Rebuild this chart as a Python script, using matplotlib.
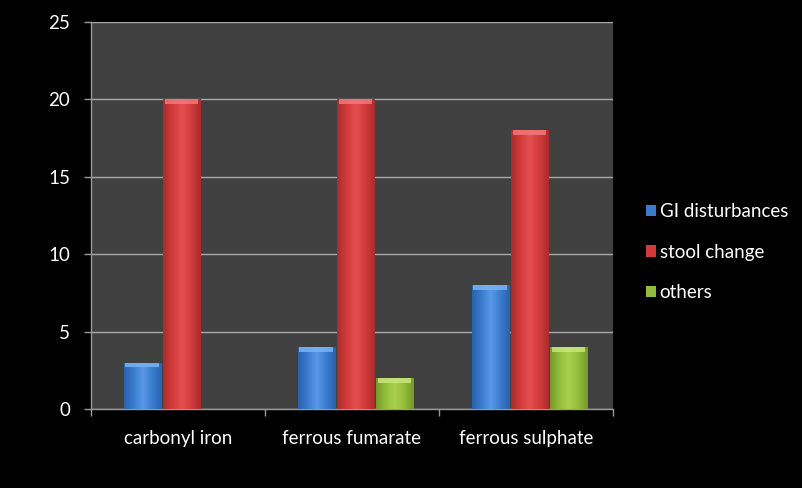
import numpy as np
import matplotlib
matplotlib.use("Agg")
import matplotlib.pyplot as plt
from matplotlib.colors import LinearSegmentedColormap
from matplotlib.patches import Patch

plt.rcParams['font.family'] = ['Lato', 'DejaVu Sans']

categories = ["carbonyl iron", "ferrous fumarate", "ferrous sulphate"]
series_names = ["GI disturbances", "stool change", "others"]
gi_disturbances = [3, 4, 8]
stool_change = [20, 20, 18]
others = [0, 2, 4]
y_ticks = [0, 5, 10, 15, 20, 25]

series_values = [gi_disturbances, stool_change, others]
base_colors = ["#3a7bd0", "#d23a3a", "#93bc3a"]
edge_dark = ["#2b62ac", "#a92c2c", "#74992b"]
light = ["#5a98e6", "#e45050", "#abd050"]
cap_colors = ["#7ab4f5", "#f27878", "#c8e67a"]

fig = plt.figure(figsize=(8.03, 4.88), dpi=100, facecolor="black")
ax = fig.add_axes([0.1133, 0.1619, 0.6501, 0.7931])
ax.set_facecolor("#404040")

x = np.arange(len(categories))
width = 0.215
step = 0.225

for i, (vals, c) in enumerate(zip(series_values, base_colors)):
    offs = (i - 1) * step
    bars = ax.bar(x + offs + 0.02, vals, width, color=c, zorder=3, linewidth=0)
    cmap = LinearSegmentedColormap.from_list(
        "g%d" % i, [edge_dark[i], c, light[i], c, edge_dark[i]])
    grad = np.linspace(0, 1, 256).reshape(1, -1)
    for b in bars:
        h = b.get_height()
        if h <= 0:
            continue
        x0 = b.get_x()
        w = b.get_width()
        im = ax.imshow(grad, extent=[x0, x0 + w, 0, h], aspect="auto",
                       cmap=cmap, zorder=4, interpolation="bicubic")
        im.set_clip_path(b)
        # lighter cap on top of each bar
        ax.bar(x0 + w / 2, 0.3, w * 0.9, bottom=h - 0.3,
               color=cap_colors[i], zorder=5, linewidth=0, alpha=0.85)

ax.set_xlim(-0.5, 2.5)
ax.set_ylim(0, 25)
ax.set_yticks(y_ticks)
ax.set_yticklabels([str(v) for v in y_ticks])
ax.set_xticks(x)
ax.set_xticklabels(categories)
ax.set_xticks([-0.5, 0.5, 1.5, 2.5], minor=True)

ax.grid(axis="y", color="#a8a8a8", linewidth=1.0, zorder=1)
ax.set_axisbelow(True)

for s in ["top", "right"]:
    ax.spines[s].set_visible(False)
for s in ["left", "bottom"]:
    ax.spines[s].set_color("#9a9a9a")
    ax.spines[s].set_linewidth(1.0)

ax.tick_params(axis="y", colors="#9a9a9a", labelcolor="white",
               labelsize=13.5, length=5, width=1, pad=10)
ax.tick_params(axis="x", which="major", length=0, labelcolor="white",
               labelsize=13.5, pad=15)
ax.tick_params(axis="x", which="minor", colors="#9a9a9a", length=5, width=1)

handles = [Patch(facecolor=c, edgecolor="none") for c in base_colors]
leg = fig.legend(handles, series_names, loc="upper left",
                 bbox_to_anchor=(0.783, 0.618), frameon=False,
                 fontsize=13.5, labelcolor="white", handlelength=0.55,
                 handleheight=0.55, handletextpad=0.2, labelspacing=1.25)

fig.savefig("out.png", dpi=100, facecolor="black")
